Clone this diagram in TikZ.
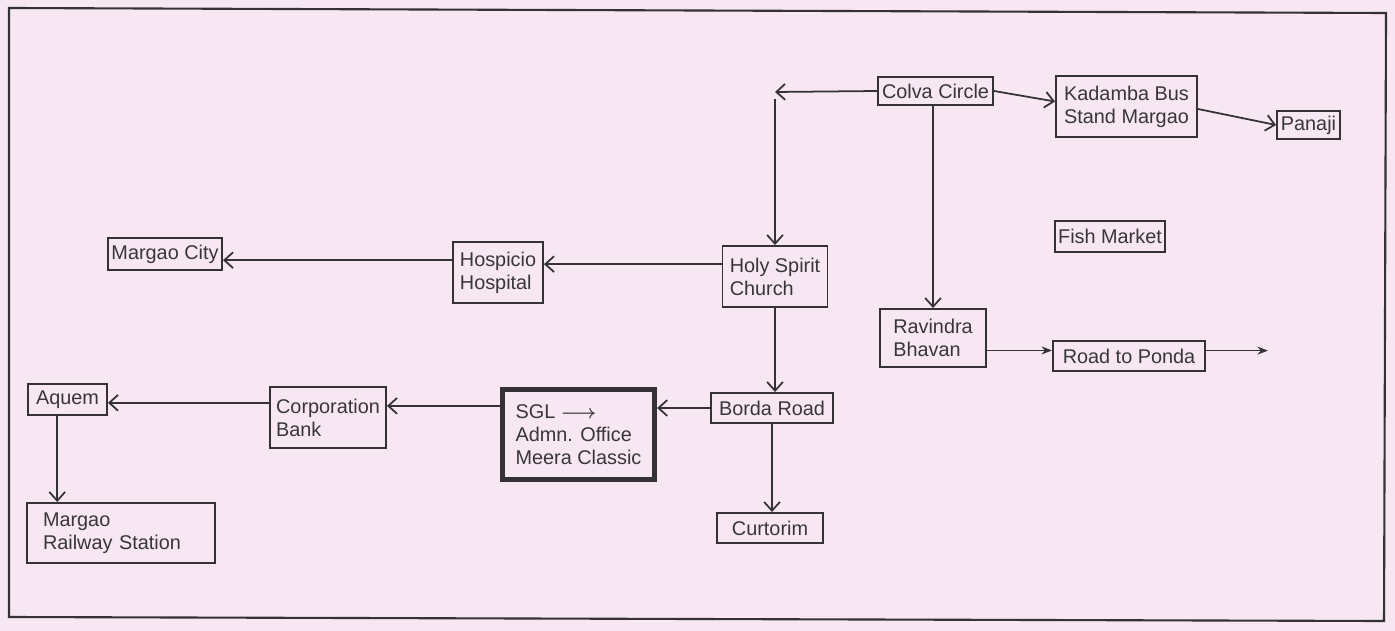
\documentclass[tikz,border=0pt]{standalone}
\usepackage{fontspec}
\setmainfont{Liberation Sans}
\usepackage{xcolor}
\usepackage{tikz}
\usetikzlibrary{arrows.meta, calc}
\definecolor{scanPink}{RGB}{246, 231, 243}
\definecolor{inkGray}{RGB}{52, 50, 54}
\definecolor{textGray}{RGB}{56, 54, 58}
\newlength\pxu
\setlength\pxu{0.02cm}
\newcommand\stopfont{\fontsize{11.3}{13}\selectfont}
\tikzset{
  stop/.style={draw=inkGray, line width=1.1pt, text=textGray, align=left,
    inner xsep=2pt, inner ysep=1pt, font=\stopfont},
  road/.style={inkGray, line width=1pt, ->},
  roadOut/.style={inkGray, line width=1pt, -{Stealth[length=6pt, width=4.5pt]}}
}

\begin{document}
\begin{tikzpicture}[x=0.02cm, y=-0.02cm, >={Straight Barb[length=5pt, width=9pt]}]

  \fill[scanPink] (0, 0) rectangle (1395, 631);
  \useasboundingbox (0, 0) rectangle (1395, 631);
  % \draw [help lines, step=50] (0, 0) grid (1395, 631);
  \draw[inkGray, line width=1.2pt] (9, 8) -- (1386, 13) -- (1384, 621) -- (9, 617) -- cycle;

  % places
  \node[stop, minimum width=115\pxu, minimum height=28\pxu] (colva) at (935.5, 91) {Colva Circle};
  \node[stop, minimum width=141\pxu, minimum height=61\pxu] (kadamba) at (1126.5, 106.5) {Kadamba Bus\\Stand Margao};
  \node[stop, minimum width=63\pxu, minimum height=28\pxu] (panaji) at (1308.5, 125) {Panaji};
  \node[stop, minimum width=110\pxu, minimum height=31\pxu] (fishMarket) at (1110, 236.5) {Fish Market};
  \node[stop, minimum width=105\pxu, minimum height=61\pxu] (holySpirit) at (775, 276.5) {Holy Spirit\\Church};
  \node[stop, minimum width=90\pxu, minimum height=61\pxu] (hospicio) at (498, 272.5) {Hospicio\\Hospital};
  \node[stop, minimum width=112\pxu, minimum height=32\pxu] (margaoCity) at (165, 254) {Margao City};
  \node[stop, minimum width=106\pxu, minimum height=58\pxu] (ravindra) at (933, 338) {Ravindra\\Bhavan};
  \node[stop, minimum width=152\pxu, minimum height=30\pxu] (ponda) at (1129, 356) {Road to Ponda};
  \node[stop, minimum width=122\pxu, minimum height=30\pxu] (borda) at (772, 408) {Borda Road};
  \node[stop, line width=3pt, minimum width=152\pxu, minimum height=90\pxu] (sgl) at (578.5, 434.5) {SGL {\boldmath$\longrightarrow$}\\Admn. Office\\Meera Classic};
  \node[stop, minimum width=116\pxu, minimum height=61\pxu] (corpBank) at (328, 417.5) {Corporation\\Bank};
  \node[stop, minimum width=79\pxu, minimum height=31\pxu] (aquem) at (67.5, 399.5) {Aquem};
  \node[stop, text width=156\pxu, inner xsep=16\pxu, minimum height=60\pxu] (railway) at (121, 533) {Margao\\Railway Station};
  \node[stop, minimum width=106\pxu, minimum height=30\pxu] (curtorim) at (770, 528) {Curtorim};

  % roads
  \coordinate (colvaEnd) at (775, 92);
  \coordinate (churchTurn) at (775, 99);
  \coordinate (pondaEnd) at (1268, 350);
  \draw[road] (colva.west) -- (colvaEnd);
  \draw[road] (churchTurn) -- (churchTurn |- holySpirit.north);
  \draw[road] (colva.east) -- (kadamba.176);
  \draw[road] (kadamba.-2) -- (panaji.west);
  \draw[road] (ravindra.north |- colva.south) -- (ravindra.north);
  \draw[road] (holySpirit.167) -- (holySpirit.167 -| hospicio.east);
  \draw[road] (hospicio.165) -- (hospicio.165 -| margaoCity.east);
  \draw[road] (holySpirit.south) -- (holySpirit.south |- borda.north);
  \draw[road] (borda.west) -- (borda.west -| sgl.east);
  \draw[road] (sgl.160) -- (sgl.160 -| corpBank.east);
  \draw[road] (corpBank.166) -- (corpBank.166 -| aquem.east);
  \draw[road] (aquem.238) -- (aquem.238 |- railway.north);
  \draw[road] (borda.south) -- (borda.south |- curtorim.north);
  \draw[roadOut] (ravindra.-13) -- (ravindra.-13 -| ponda.west);
  \draw[roadOut] (ponda.4) -- (ponda.4 -| pondaEnd);

\end{tikzpicture}
\end{document}
